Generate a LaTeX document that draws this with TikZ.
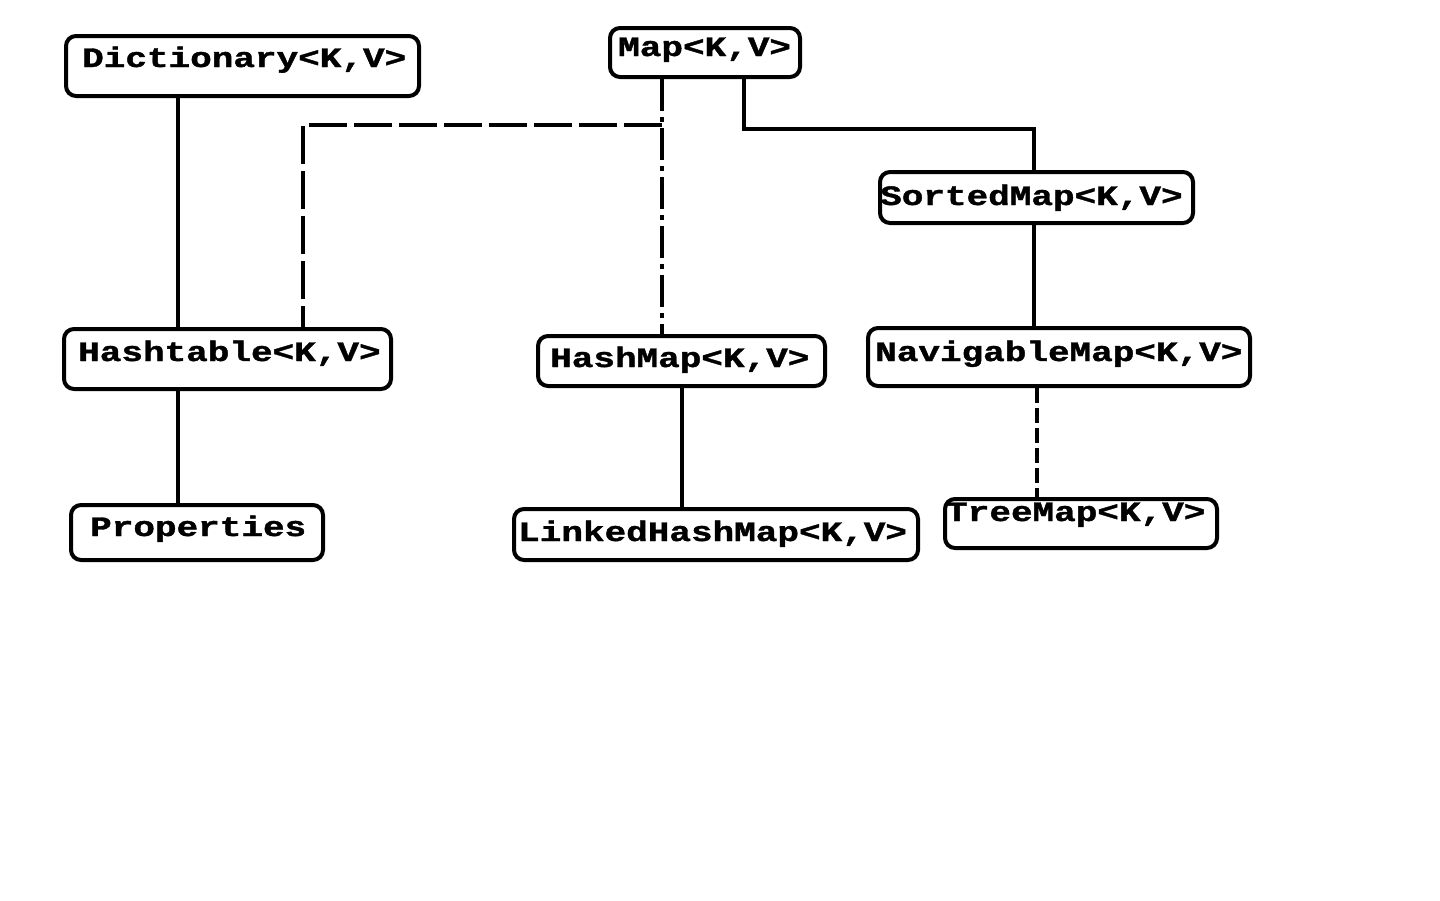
\documentclass[tikz,border=0pt]{standalone}
\usepackage{fontspec}
\newfontfamily\boxfont[BoldFeatures={FakeBold=1.2}]{Liberation Mono}
\newcommand{\squash}[1]{\scalebox{1}[0.78]{#1}}
\begin{document}
\begin{tikzpicture}[x=1pt,y=-1pt,
  box/.style={draw=black, line width=4pt, rounded corners=10pt, anchor=north west, inner sep=0pt, fill=white},
  lbl/.style={anchor=base west, inner sep=0pt, font=\fontsize{36}{40}\selectfont\boxfont\bfseries},
  conn/.style={line width=4pt},
  dashA/.style={line width=4pt, dash pattern=on 38pt off 7pt},
  dashB/.style={line width=4pt, dash pattern=on 32pt off 6pt on 5pt off 6pt},
  dashC/.style={line width=4pt, dash pattern=on 15pt off 5pt}]
\useasboundingbox (0,0) rectangle (1440,900);
\coordinate (jl) at (303,125);
\coordinate (jr) at (662,125);
% boxes
\node[box, minimum width=353pt, minimum height=60pt] (dict) at (64,34) {};
\node[box, minimum width=190pt, minimum height=49pt] (map) at (608,26) {};
\node[box, minimum width=313pt, minimum height=51pt] (sorted) at (878,170) {};
\node[box, minimum width=327pt, minimum height=60pt] (hasht) at (62,327) {};
\node[box, minimum width=287pt, minimum height=50pt] (hashm) at (536,334) {};
\node[box, minimum width=382pt, minimum height=58pt] (navig) at (866,326) {};
\node[box, minimum width=252pt, minimum height=55pt] (props) at (69,503) {};
\node[box, minimum width=404pt, minimum height=51pt] (linked) at (512,507) {};
\node[box, minimum width=272pt, minimum height=49pt] (tree) at (943,497) {};
% connectors
\draw[conn] (dict.south -| 178,0) -- (hasht.north -| 178,0);
\draw[conn] (hasht.south -| 178,0) -- (props.north -| 178,0);
\draw[dashB] (map.south -| jr) -- (hashm.north -| jr);
\draw[dashA] (jr) -- (jl) -- (hasht.north -| jl);
\draw[conn] (map.south -| 744,0) |- (1034,129) -- (sorted.north -| 1034,0);
\draw[conn] (sorted.south -| 1034,0) -- (navig.north -| 1034,0);
\draw[conn] (hashm.south -| 682,0) -- (linked.north -| 682,0);
\draw[dashC] (navig.south -| 1037,0) -- (tree.north -| 1037,0);
% labels
\node[lbl] (tdict) at (82,67) {\squash{Dictionary<K,V>}};
\node[lbl] (tmap) at (618,56) {\squash{Map<K,V>}};
\node[lbl] (tsorted) at (880,205) {\squash{SortedMap<K,V>}};
\node[lbl] (thasht) at (78,361) {\squash{Hashtable<K,V>}};
\node[lbl] (thashm) at (550,367) {\squash{HashMap<K,V>}};
\node[lbl] (tnavig) at (875,361) {\squash{NavigableMap<K,V>}};
\node[lbl] (tprops) at (90,536) {\squash{Properties}};
\node[lbl] (tlinked) at (518,541) {\squash{LinkedHashMap<K,V>}};
\node[lbl] (ttree) at (946,521) {\squash{TreeMap<K,V>}};
\end{tikzpicture}
\end{document}
